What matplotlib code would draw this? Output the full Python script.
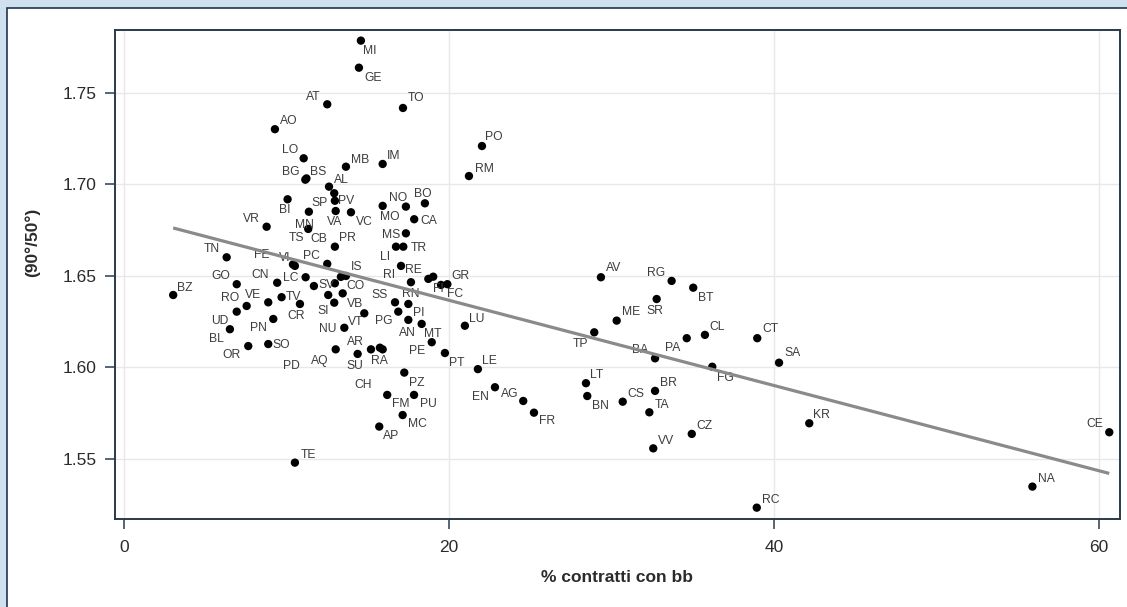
#!/usr/bin/env python3
# -*- coding: utf-8 -*-
import numpy as np
import matplotlib
matplotlib.use('Agg')
import matplotlib.pyplot as plt
from matplotlib.patches import Rectangle
from matplotlib import ticker

#==============================================================================#
# data: province, % contratti con bb, rapporto 90°/50°
prov = ['MI', 'GE', 'AT', 'AO', 'LO', 'BG', 'BS', 'MB', 'IM', 'AL',
        'PV', 'SP', 'VA', 'BI', 'VR', 'MN', 'TS', 'CB', 'PR', 'VC',
        'NO', 'MO', 'BO', 'CA', 'MS', 'TR', 'LI', 'RE', 'RI', 'RN',
        'SS', 'PG', 'PI', 'AN', 'MT', 'PE', 'GR', 'FC', 'FI', 'LU',
        'PT', 'LE', 'PZ', 'PU', 'FM', 'MC', 'AP', 'CH', 'AQ', 'AR',
        'SU', 'RA', 'NU', 'VT', 'VB', 'SI', 'CO', 'IS', 'SV', 'LC',
        'CN', 'GO', 'TN', 'VI', 'FE', 'PC', 'BZ', 'RO', 'VE', 'UD',
        'PN', 'BL', 'OR', 'SO', 'PD', 'TV', 'CR', 'TE', 'TO', 'PO',
        'RM', 'AV', 'RG', 'BT', 'SR', 'ME', 'TP', 'BA', 'PA', 'CL',
        'CT', 'FG', 'SA', 'LT', 'BN', 'CS', 'BR', 'TA', 'CZ', 'VV',
        'KR', 'CE', 'NA', 'RC', 'EN', 'AG', 'FR']

pct_bb = [14.58, 14.46, 12.51, 9.29, 11.06, 11.16, 11.23, 13.66, 15.92, 12.62,
          12.94, 12.98, 13.03, 10.07, 8.78, 11.38, 11.34, 12.98, 12.98, 13.97,
          17.35, 15.92, 18.52, 17.86, 17.35, 17.19, 16.74, 17.05, 17.66, 17.50,
          16.68, 16.88, 17.50, 19.03, 18.32, 18.94, 19.90, 19.51, 18.73, 20.98,
          19.75, 21.78, 17.25, 17.85, 16.20, 17.15, 15.71, 15.75, 13.03, 15.20,
          14.38, 15.92, 13.56, 14.79, 13.46, 12.94, 13.35, 13.66, 11.69, 11.18,
          9.43, 6.94, 6.32, 10.52, 10.40, 12.51, 3.03, 7.55, 8.88, 6.94,
          9.19, 6.52, 7.65, 8.88, 12.57, 9.70, 10.83, 10.52, 17.17, 22.03,
          21.23, 29.35, 33.70, 35.03, 32.78, 30.32, 28.94, 32.68, 34.63, 35.75,
          38.97, 36.20, 40.31, 28.43, 28.51, 30.69, 32.68, 32.33, 34.94, 32.57,
          42.17, 60.63, 55.90, 38.94, 22.83, 24.57, 25.23]

ratio = [1.7786, 1.7638, 1.7438, 1.7302, 1.7143, 1.7026, 1.7033, 1.7097, 1.7112, 1.6988,
         1.6952, 1.6911, 1.6855, 1.6919, 1.6769, 1.6851, 1.6757, 1.6460, 1.6660, 1.6848,
         1.6879, 1.6883, 1.6897, 1.6810, 1.6733, 1.6660, 1.6660, 1.6555, 1.6466, 1.6347,
         1.6356, 1.6305, 1.6260, 1.6496, 1.6238, 1.6138, 1.6455, 1.6451, 1.6484, 1.6228,
         1.6079, 1.5991, 1.5972, 1.5850, 1.5850, 1.5740, 1.5677, 1.6108, 1.6099, 1.6099,
         1.6074, 1.6099, 1.6217, 1.6296, 1.6405, 1.6354, 1.6495, 1.6500, 1.6445, 1.6493,
         1.6463, 1.6455, 1.6602, 1.6555, 1.6563, 1.6566, 1.6396, 1.6336, 1.6356, 1.6305,
         1.6265, 1.6209, 1.6117, 1.6128, 1.6396, 1.6384, 1.6347, 1.5480, 1.7418, 1.7210,
         1.7046, 1.6493, 1.6473, 1.6436, 1.6374, 1.6256, 1.6192, 1.6050, 1.6160, 1.6178,
         1.6160, 1.6004, 1.6026, 1.5914, 1.5844, 1.5813, 1.5872, 1.5755, 1.5637, 1.5558,
         1.5695, 1.5646, 1.5349, 1.5234, 1.5892, 1.5817, 1.5753]

xticks = [0, 20, 40, 60]
yticks = [1.55, 1.60, 1.65, 1.70, 1.75]

#==============================================================================#
# posizione delle etichette (offset in pixel rispetto al punto)
lab_off = [(9, -9), (14, -9), (-14, 9), (14, 9), (-14, 9), (-15, 9), (12, 8), (14, 8), (11, 9), (12, 8),
           (12, -7), (-15, -1), (-1, -10), (-3, -10), (-15, 9), (-4, -12), (-12, -8), (-16, 45), (13, 10), (13, -9),
           (-8, 10), (7, -10), (-2, 11), (15, -1), (-15, 0), (15, 0), (-11, -9), (12, -3), (-22, 8), (2, 11),
           (-15, 9), (-15, -8), (10, 8), (-26, -55), (11, -9), (-15, -8), (13, 9), (14, -8), (10, -9), (12, 8),
           (12, -9), (12, 9), (12, -9), (14, -8), (14, -8), (15, -8), (12, -8), (-17, -36), (-16, -10), (-16, 9),
           (-3, -11), (-3, -10), (-17, 0), (-9, -8), (12, -9), (-11, -7), (15, -8), (11, 10), (13, 2), (-15, 0),
           (-17, 9), (-16, 9), (-15, 9), (-10, 9), (-31, 11), (-16, 9), (12, 8), (-17, 9), (-15, 9), (-17, -8),
           (-15, -8), (-13, -9), (-17, -8), (13, 0), (-37, -70), (12, 1), (-4, -11), (14, 9), (13, 11), (12, 10),
           (15, 8), (13, 10), (-16, 9), (13, -9), (-2, -11), (14, 10), (-14, -10), (-15, 10), (-14, -9), (12, 9),
           (13, 10), (13, -10), (13, 11), (11, 9), (13, -9), (13, 9), (13, 9), (13, 9), (13, 9), (13, 9),
           (12, 9), (-14, 9), (14, 9), (14, 9), (-15, -9), (-14, 8), (13, -7)]

#==============================================================================#
W, H, DPI = 1127, 607, 100
plt.rcParams['font.family'] = ['Liberation Sans', 'DejaVu Sans']

fig = plt.figure(figsize=(W / DPI, H / DPI), dpi=DPI)
fig.patch.set_facecolor('#cfe0ee')
# pannello bianco interno (dietro agli assi)
fig.patches.append(Rectangle((7 / W, -0.1), 1.2, 1.1 - 8 / H,
                             transform=fig.transFigure, facecolor='white',
                             edgecolor='#1d3550', lw=1.2, zorder=-5))

ax = fig.add_axes([115 / W, 1 - 519 / H, 1005 / W, 489 / H])
ax.set_zorder(1)
ax.set_facecolor('white')
for s in ax.spines.values():
    s.set_color('#2a3a4c')
    s.set_linewidth(1.4)

ax.set_xlim(-0.55, 61.29)
ax.set_ylim(1.5172, 1.7844)
ax.xaxis.set_major_locator(ticker.FixedLocator(xticks))
ax.yaxis.set_major_locator(ticker.FixedLocator(yticks))
ax.yaxis.set_major_formatter(ticker.FormatStrFormatter('%.2f'))
ax.tick_params(axis='both', direction='out', length=7, width=1.1,
               color='#2a3a4c', labelsize=12.5, labelcolor='#2b2b2b')
ax.tick_params(axis='x', pad=8)
ax.tick_params(axis='y', pad=6)
ax.grid(True, color='#e8e8e8', lw=1.0, zorder=0)
ax.set_axisbelow(True)

x = np.array(pct_bb)
y = np.array(ratio)
ax.scatter(x, y, s=36, c='black', edgecolors='none', zorder=2)

for name, xi, yi, (dx, dy) in zip(prov, x, y, lab_off):
    ax.annotate(name, (xi, yi), xytext=(dx, dy - 4.2), textcoords='offset pixels',
                ha='center', va='baseline', fontsize=8.7, color='#3c3c3c', zorder=3)

# retta di regressione (lfit)
b, a = np.polyfit(x, y, 1)
xs = np.array([x.min(), x.max()])
ax.plot(xs, a + b * xs, color='#8a8a8a', lw=2.3, zorder=4, solid_capstyle='butt')

fig.text(617 / W, 1 - 578 / H, '% contratti con bb', ha='center', va='center',
         fontsize=12.5, fontweight='bold', color='#2b2b2b')
fig.text(32 / W, 1 - 242 / H, '(90°/50°)', ha='center', va='center', rotation=90,
         fontsize=12.5, fontweight='bold', color='#2b2b2b')

fig.savefig('out.png', dpi=DPI, facecolor=fig.get_facecolor())
